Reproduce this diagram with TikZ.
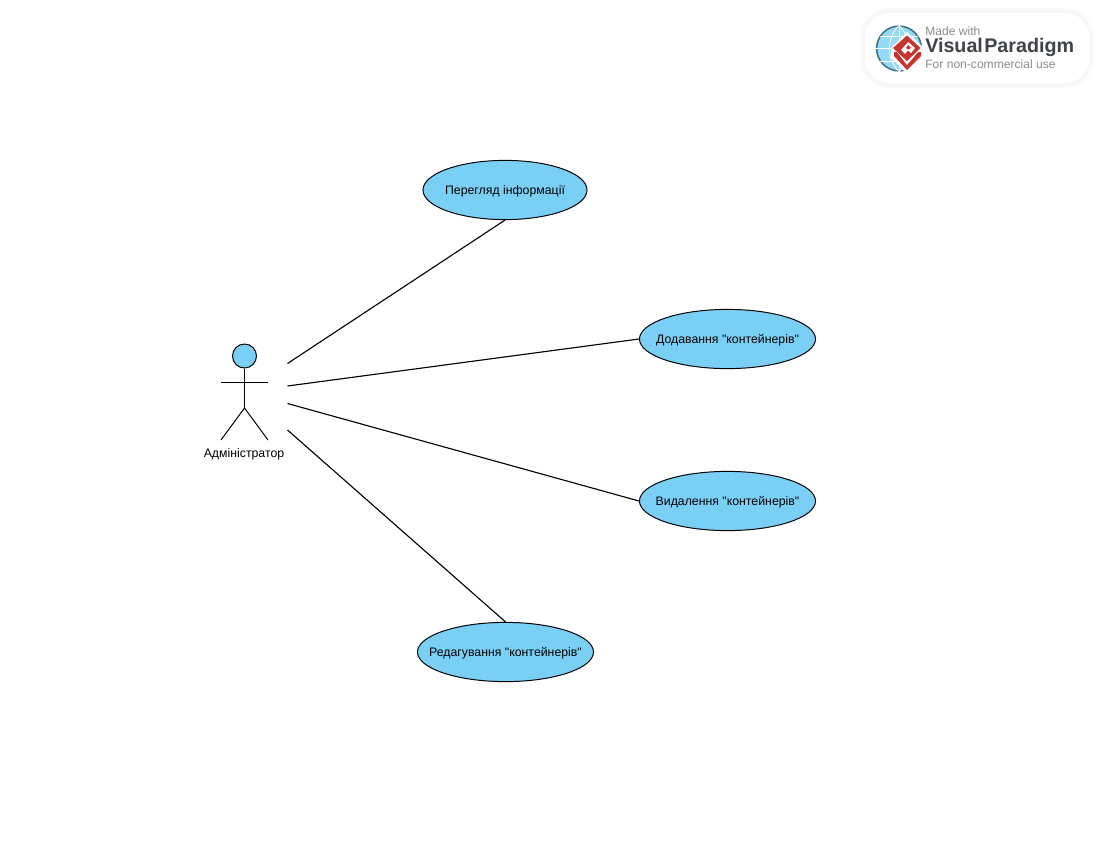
\documentclass[tikz,border=0pt]{standalone}
\usepackage{fontspec}
\setmainfont{Liberation Sans}
\newfontfamily\diagramfont{Liberation Sans}
\usetikzlibrary{shapes.geometric}
\usetikzlibrary{positioning}
\definecolor{usecaseblue}{HTML}{7ACFF5}
\definecolor{logored}{HTML}{C8322F}
\definecolor{logogray}{HTML}{8C8C8C}
\definecolor{logodark}{HTML}{404347}
\newcommand{\uctext}[1]{\raisebox{-3.1pt}[0pt][0pt]{\makebox[0pt]{#1}}}
\tikzset{
  usecase/.style={draw=black, fill=usecaseblue, ellipse, line width=0.7pt, inner sep=0pt,
    minimum height=1.48cm, font=\diagramfont\fontsize{8.75}{10}\selectfont},
  assoc/.style={draw=black, line width=0.8pt},
  actorline/.style={draw=black, line width=0.7pt},
  logotext/.style={inner sep=0pt, anchor=west, text=logogray, font=\fontsize{8.6}{9}\selectfont},
}
\begin{document}
\begin{tikzpicture}[x=0.025cm, y=-0.025cm]
    \useasboundingbox (0,0) rectangle (1100,850);

    % use cases
    \node [usecase, minimum width=4.1cm] (view) at (505,190) {\uctext{Перегляд інформації}};
    \node [usecase, minimum width=4.4cm] (add) at (727.5,339) {\uctext{Додавання "контейнерів"}};
    \node [usecase, minimum width=4.4cm] (remove) at (727.5,501) {\uctext{Видалення "контейнерів"}};
    \node [usecase, minimum width=4.4cm] (edit) at (505.5,652) {\uctext{Редагування "контейнерів"}};

    % actor
    \node [draw=black, fill=usecaseblue, circle, line width=0.7pt, inner sep=0pt, minimum size=0.6cm] (head) at (244.5,356) {};
    \coordinate (hip) at (244.5,408);
    \coordinate (armL) at (221,382);
    \coordinate (armR) at (268,382);
    \coordinate (footL) at (221,440);
    \coordinate (footR) at (268,440);
    \draw [actorline] (head) -- (hip);
    \draw [actorline] (armL) -- (armR);
    \draw [actorline] (footL) -- (hip) -- (footR);
    \node [font=\fontsize{8.75}{10}\selectfont] (admin) at (244,454.5) {Адміністратор};

    % associations
    \coordinate (a1) at (287.5,363.5);
    \coordinate (a2) at (287.5,386);
    \coordinate (a3) at (287.5,403.5);
    \coordinate (a4) at (287.5,430);
    \draw [assoc] (a1) -- (view.south);
    \draw [assoc] (a2) -- (add.west);
    \draw [assoc] (a3) -- (remove.west);
    \draw [assoc] (a4) -- (edit.north);

    % logo
    \fill [black!1.5, rounded corners=0.72cm] (860,8) rectangle (1094,88);
    \fill [black!3, rounded corners=0.66cm] (862,10) rectangle (1092,86);
    \fill [white, rounded corners=0.6cm] (865,13) rectangle (1089,83);
    \node [draw=black!45!usecaseblue, fill=usecaseblue!80, circle, line width=1.1pt, inner sep=0pt, minimum size=1.12cm] (globe) at (899,48.5) {};
    \draw [white, line width=0.6pt] (globe.north) -- (globe.south) (globe.west) -- (globe.east);
    \draw [white, line width=0.6pt] (globe.north) to [bend left=45] (globe.south);
    \draw [white, line width=0.6pt] (globe.north) to [bend right=45] (globe.south);
    \draw [white, line width=0.6pt] (880,36) -- (918,36) (880,61) -- (918,61);
    \fill [white] (907,32) -- (924,48) -- (924,57) -- (907,74) -- (891,58) -- (891,48) -- cycle;
    \fill [logored] (894,56) -- (907,70) -- (921,56) -- (921,52) -- (894,52) -- cycle;
    \fill [white] (897,52) -- (907,65) -- (918,52) -- (907,44) -- cycle;
    \fill [logored] (907,35.5) -- (920.5,48) -- (907,61) -- (893,48) -- cycle;
    \fill [white] (908,42) -- (915,48) -- (911,53) -- (908,50.5) -- (905,54) -- (901,50) -- cycle;
    \fill [logored] (908,45) -- (911,48) -- (908,49.5) -- (906,48) -- cycle;
    \node [logotext] (madewith) at (925,31) {Made with};
    \node [logotext, text=logodark, font=\fontsize{14}{17}\bfseries\selectfont] (vpname) at (925,47.5) {Visual\kern1pt Paradigm};
    \node [logotext] (noncomm) at (925,64.5) {For non-commercial use};
\end{tikzpicture}
\end{document}
